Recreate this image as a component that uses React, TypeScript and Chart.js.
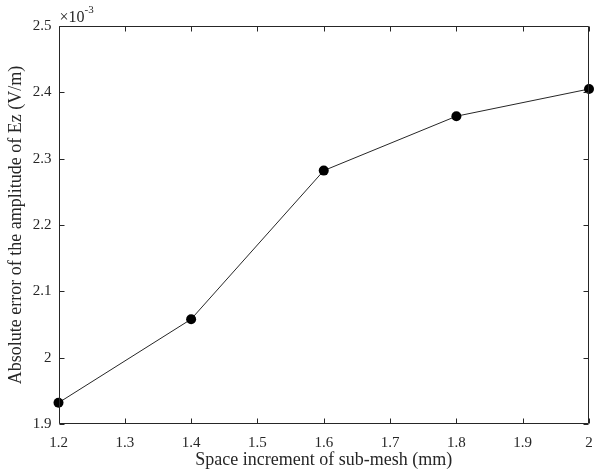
import React, { useEffect, useRef } from "react";
import { Chart, registerables } from "chart.js";

Chart.register(...registerables);

// ---- data ----
const spaceIncrement = [1.2, 1.4, 1.6, 1.8, 2.0];
const absError = [1.932, 2.058, 2.282, 2.364, 2.405]; // ×10^-3 V/m
const xTickValues = [1.2, 1.3, 1.4, 1.5, 1.6, 1.7, 1.8, 1.9, 2.0];
const yTickValues = [1.9, 2.0, 2.1, 2.2, 2.3, 2.4, 2.5];
const xTitle = "Space increment of sub-mesh (mm)";
const yTitle = "Absolute error of the amplitude of Ez (V/m)";
const exponentBase = "\u00d710";
const exponentPower = "-3";

const FONT = "'Liberation Serif', 'Times New Roman', serif";
const INK = "#262626";

const fmt = (v: number) => String(Number(v.toFixed(1)));

const framePlugin = {
  id: "matlabFrame",
  afterDraw(chart: any) {
    const { ctx, chartArea, scales } = chart;
    const { left, right, top, bottom } = chartArea;
    const L = Math.round(left) + 0.5;
    const R = Math.round(right) - 0.5;
    const T = Math.round(top) + 0.5;
    const B = Math.round(bottom) - 0.5;
    ctx.save();
    ctx.strokeStyle = INK;
    ctx.lineWidth = 1;
    ctx.beginPath();
    ctx.rect(L, T, R - L, B - T);
    const tl = 5;
    xTickValues.forEach((v) => {
      const px = Math.round(scales.x.getPixelForValue(v)) + 0.5;
      ctx.moveTo(px, B);
      ctx.lineTo(px, B - tl);
      ctx.moveTo(px, T);
      ctx.lineTo(px, T + tl);
    });
    yTickValues.forEach((v) => {
      const py = Math.round(scales.y.getPixelForValue(v)) + 0.5;
      ctx.moveTo(L, py);
      ctx.lineTo(L + tl, py);
      ctx.moveTo(R, py);
      ctx.lineTo(R - tl, py);
    });
    ctx.stroke();
    // exponent label
    ctx.fillStyle = INK;
    ctx.textBaseline = "alphabetic";
    ctx.textAlign = "left";
    ctx.font = `16px ${FONT}`;
    const bx = left + 1;
    const by = top - 4;
    ctx.fillText(exponentBase, bx, by);
    const w = ctx.measureText(exponentBase).width;
    ctx.font = `11px ${FONT}`;
    ctx.fillText(exponentPower, bx + w, by - 9);
    ctx.restore();
  },
};

export default function App() {
  const ref = useRef<HTMLCanvasElement | null>(null);
  useEffect(() => {
    if (!ref.current) return;
    const chart = new Chart(ref.current, {
      type: "line",
      data: {
        datasets: [
          {
            data: spaceIncrement.map((x, i) => ({ x, y: absError[i] })),
            borderColor: INK,
            borderWidth: 1,
            backgroundColor: "#000",
            pointBackgroundColor: "#000",
            pointBorderColor: "#000",
            pointRadius: 5,
            pointBorderWidth: 0,
            tension: 0,
            clip: false as any,
          },
        ],
      },
      options: {
        responsive: false,
        animation: false,
        devicePixelRatio: 1,
        layout: { padding: { top: 26, right: 2, left: 0, bottom: 0 } },
        plugins: {
          legend: { display: false },
          tooltip: { enabled: false },
        },
        scales: {
          x: {
            type: "linear",
            min: 1.2,
            max: 2.0,
            grid: { display: false, drawTicks: false },
            border: { display: false },
            afterBuildTicks: (s: any) => {
              s.ticks = xTickValues.map((value) => ({ value }));
            },
            afterFit: (s: any) => {
              s.height = 50;
              s.paddingRight = 0;
              s.paddingLeft = 0;
            },
            ticks: {
              autoSkip: false,
              maxRotation: 0,
              padding: 10,
              color: INK,
              font: { family: FONT, size: 15 },
              callback: (v: any) => fmt(Number(v)),
            },
            title: {
              display: true,
              text: xTitle,
              color: INK,
              font: { family: FONT, size: 18 },
              padding: { top: 0, bottom: 3 },
            },
          },
          y: {
            type: "linear",
            min: 1.9,
            max: 2.5,
            grid: { display: false, drawTicks: false },
            border: { display: false },
            afterBuildTicks: (s: any) => {
              s.ticks = yTickValues.map((value) => ({ value }));
            },
            afterFit: (s: any) => {
              s.width = 58.5;
              s.paddingTop = 0;
              s.paddingBottom = 0;
            },
            ticks: {
              autoSkip: false,
              padding: 7,
              color: INK,
              font: { family: FONT, size: 15 },
              callback: (v: any) => fmt(Number(v)),
            },
            title: {
              display: true,
              text: yTitle,
              color: INK,
              font: { family: FONT, size: 18 },
              padding: { top: 5, bottom: 0 },
            },
          },
        },
      },
      plugins: [framePlugin],
    });
    return () => chart.destroy();
  }, []);
  return (
    <div style={{ position: "fixed", left: 0, top: 0, width: 594, height: 474, background: "#fff" }}>
      <canvas ref={ref} width={594} height={474} style={{ display: "block" }} />
    </div>
  );
}
